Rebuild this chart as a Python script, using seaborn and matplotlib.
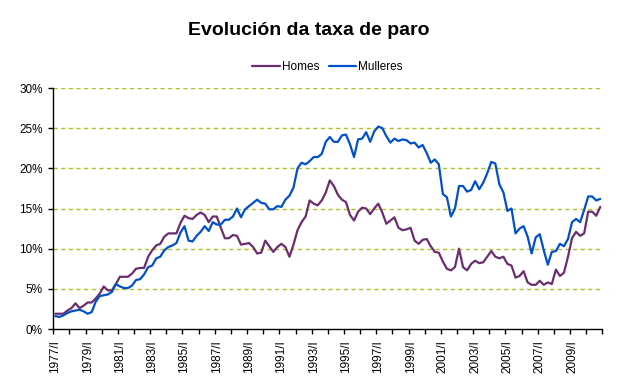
import pandas as pd
import matplotlib
matplotlib.use("Agg")
import matplotlib.pyplot as plt
import seaborn as sns
from matplotlib.ticker import PercentFormatter

# quarterly unemployment rate (%), 1977/I .. 2010/IV
homes = [
    1.9, 1.9, 1.9, 2.3, 2.6, 3.2, 2.6, 2.9, 3.3, 3.3,
    3.8, 4.4, 5.3, 4.8, 4.8, 5.6, 6.5, 6.5, 6.5, 6.9,
    7.5, 7.6, 7.6, 9.0, 9.8, 10.4, 10.6, 11.5, 11.9, 11.9,
    11.9, 13.2, 14.1, 13.8, 13.7, 14.2, 14.5, 14.2, 13.3, 14.0,
    14.0, 12.6, 11.3, 11.3, 11.7, 11.6, 10.5, 10.6, 10.7, 10.2,
    9.4, 9.5, 11.0, 10.3, 9.6, 10.2, 10.6, 10.2, 9.0, 10.5,
    12.3, 13.3, 14.0, 16.0, 15.6, 15.4, 16.0, 17.0, 18.5, 17.8,
    16.7, 16.1, 15.8, 14.2, 13.5, 14.6, 15.1, 15.0, 14.3, 15.0,
    15.6, 14.5, 13.1, 13.5, 13.9, 12.6, 12.3, 12.4, 12.6, 11.0,
    10.6, 11.1, 11.2, 10.3, 9.6, 9.5, 8.4, 7.5, 7.3, 7.7,
    10.0, 7.7, 7.3, 8.1, 8.5, 8.2, 8.3, 9.0, 9.7, 9.0,
    8.8, 9.0, 8.1, 7.9, 6.4, 6.6, 7.2, 5.8, 5.5, 5.5,
    6.0, 5.5, 5.8, 5.6, 7.4, 6.6, 7.0, 9.0, 11.3, 12.1,
    11.6, 11.9, 14.6, 14.6, 14.1, 15.2,
]
mulleres = [
    1.6, 1.5, 1.7, 2.0, 2.2, 2.3, 2.4, 2.2, 1.9, 2.1,
    3.4, 4.1, 4.2, 4.3, 4.6, 5.6, 5.3, 5.1, 5.1, 5.4,
    6.1, 6.2, 6.8, 7.7, 7.9, 8.8, 9.0, 9.8, 10.2, 10.4,
    10.7, 12.0, 12.8, 11.0, 10.9, 11.6, 12.1, 12.8, 12.2, 13.3,
    13.0, 13.0, 13.6, 13.6, 14.0, 15.0, 13.9, 14.9, 15.3, 15.7,
    16.1, 15.7, 15.6, 14.9, 14.9, 15.3, 15.2, 16.1, 16.6, 17.6,
    20.0, 20.7, 20.5, 20.9, 21.4, 21.4, 21.8, 23.3, 23.9, 23.3,
    23.3, 24.1, 24.2, 23.0, 21.4, 23.6, 23.7, 24.5, 23.3, 24.6,
    25.2, 25.0, 24.0, 23.2, 23.7, 23.4, 23.6, 23.5, 23.1, 23.2,
    22.6, 22.9, 21.9, 20.7, 21.1, 20.5, 16.8, 16.4, 14.0, 15.0,
    17.8, 17.8, 17.1, 17.3, 18.4, 17.4, 18.2, 19.4, 20.8, 20.6,
    18.0, 17.0, 14.7, 15.0, 11.9, 12.5, 12.8, 11.5, 9.4, 11.4,
    11.8, 9.8, 8.0, 9.6, 9.7, 10.6, 10.3, 11.2, 13.3, 13.7,
    13.3, 14.8, 16.5, 16.5, 16.0, 16.2,
]
tick_labels = ["1977/I", "1979/I", "1981/I", "1983/I", "1985/I", "1987/I",
               "1989/I", "1991/I", "1993/I", "1995/I", "1997/I", "1999/I",
               "2001/I", "2003/I", "2005/I", "2007/I", "2009/I"]

n = len(homes)
df = pd.DataFrame({
    "trimestre": list(range(n)) * 2,
    "taxa": homes + mulleres,
    "serie": ["Homes"] * n + ["Mulleres"] * n,
})

sns.set_style("ticks")
plt.rcParams['font.family'] = ['Liberation Sans', 'DejaVu Sans']
plt.rcParams['text.color'] = 'black'
plt.rcParams['xtick.color'] = 'black'
plt.rcParams['ytick.color'] = 'black'
plt.rcParams['axes.labelcolor'] = 'black'

fig = plt.figure(figsize=(6.17, 3.91), dpi=100)
ax = fig.add_axes([53.3 / 617, 1 - 329 / 391, 549 / 617, 241 / 391])

sns.lineplot(data=df, x="trimestre", y="taxa", hue="serie",
             palette={"Homes": "#6B2D6E", "Mulleres": "#0050C8"},
             linewidth=1.6, ax=ax)

ax.set_xlim(-0.5, n - 0.5)
ax.set_ylim(0, 30)
ax.set_yticks(range(0, 31, 5))
ax.yaxis.set_major_formatter(PercentFormatter(decimals=0))
for y in range(5, 31, 5):
    ax.axhline(y, color="#B4BE28", linestyle=(0, (3, 2.5)), linewidth=1, zorder=0)

ax.set_xticks(range(0, n, 8), labels=tick_labels, rotation=90)
ax.set_xticks([q - 0.5 for q in range(0, n + 1, 4)], minor=True)
ax.tick_params(axis="x", which="major", length=0, pad=8, labelsize=8.5)
ax.tick_params(axis="x", which="minor", length=3.5, width=1)
ax.tick_params(axis="y", length=3.5, width=1, pad=4, labelsize=8.5)
ax.set_xlabel("")
ax.set_ylabel("")
sns.despine(ax=ax)
for s in ["left", "bottom"]:
    ax.spines[s].set_linewidth(1)
    ax.spines[s].set_color("black")

ax.legend_.remove()
handles, labels = ax.get_legend_handles_labels()
fig.legend(handles, labels, loc="center", bbox_to_anchor=(0.531, 0.829), ncol=2,
           frameon=False, fontsize=8.5, handlelength=2.3, handletextpad=0.2,
           columnspacing=0.8)

fig.text(0.5, 0.923, "Evolución da taxa de paro", ha="center", va="center",
         fontsize=14, fontweight="bold")

fig.savefig("out.png", dpi=100)
